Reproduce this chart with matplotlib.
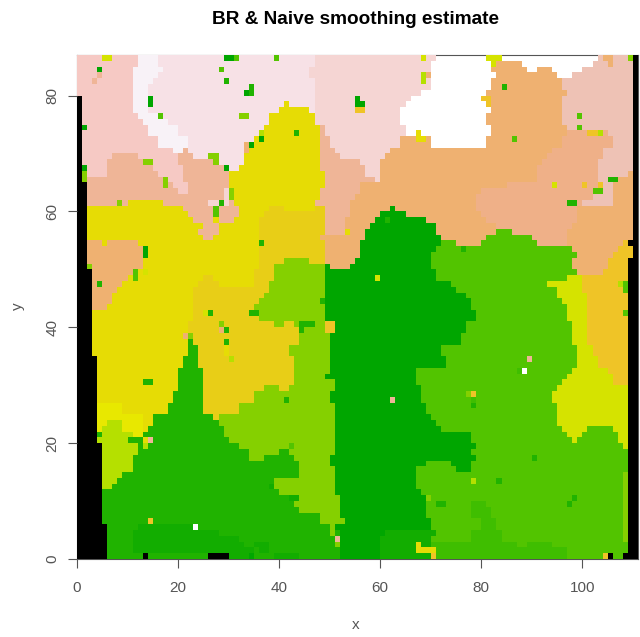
import numpy as np
import matplotlib
matplotlib.use('Agg')
import matplotlib.pyplot as plt
from matplotlib.colors import ListedColormap

plt.rcParams['font.family'] = ['Liberation Sans', 'DejaVu Sans']

# class colours of the map, W = no estimate (see through)
class_names = list('KabcdefghyzoOlAmnrpsqW')
class_colors = ['#000000', '#F6C9C4', '#F8F2F7', '#F7E1E6', '#F5D5D3', '#EFB597', '#EFB171',
                '#EFB088', '#EEC2B5', '#E6DC05', '#E8E800', '#E8CE17', '#EFC427', '#D5E300',
                '#B5E000', '#85D000', '#52C400', '#3FBE00', '#20B300', '#12AD00', '#00A600',
                '#FFFFFF00']

# one string per map row, top row first: class letter + column where the run ends
map_rows = [
    'a12 b16 c47 d71 W81 l84 W103 h104 f106 h109 m110 K111',
    'a12 b16 c47 d70 W82 l83 f88 W102 h105 f106 h110 K111',
    'a11 b17 c46 d70 W82 f89 W91 f94 W100 h110 K111',
    'a11 b16 c46 d70 W83 f95 W98 h110 K111',
    'a11 b15 c47 d70 W82 f96 h110 K111',
    'a11 b14 c47 d70 W82 f96 h110 K111',
    'a11 b14 c47 d68 W81 f97 h110 K111',
    'K1 a11 b14 c47 d66 W80 f96 h110 K111',
    'K1 a11 b14 c41 y42 c47 d65 W81 f96 h110 K111',
    'K1 a11 b14 c40 y46 c47 d64 W82 f96 h110 K111',
    'K1 a12 b16 c38 y47 d64 W81 f96 h110 K111',
    'K1 a13 b18 c38 y47 d64 W81 f96 h110 K111',
    'K1 a14 b20 c37 y48 e49 d65 W82 f97 h110 K111',
    'K1 a14 b20 c37 y48 e49 d65 W82 f97 g105 h110 K111',
    'K1 a16 b22 c35 y48 e50 d64 f70 W81 f96 g106 h110 K111',
    'K1 a16 b22 c35 y48 e50 d64 f70 W81 f96 g106 h110 K111',
    'K1 a19 b21 e22 c33 y48 e51 d62 f94 g104 h110 K111',
    'K1 a7 e12 a20 e23 c33 y48 e52 d61 f93 g104 h110 K111',
    'K1 a6 e13 a20 e28 c33 y48 e56 d60 f92 g103 h110 K111',
    'K1 a6 e15 a21 e30 c32 y48 e57 d60 f91 g103 h110 K111',
    'K1 a6 e16 a21 e30 y49 e57 d60 f91 g103 h109 f110 K111',
    'K1 a2 e17 a21 e30 y49 e59 d60 f91 g103 h107 f110 K111',
    'K2 e19 a22 e30 y49 e56 f85 g103 h106 f110 K111',
    'K2 e20 a22 e30 y48 e56 f80 g102 h106 f110 K111',
    'K2 e31 y48 e55 f79 g102 h106 f110 K111',
    'K2 e10 y17 e31 y47 e54 f79 g100 h106 f110 K111',
    'K2 y21 e32 y38 o41 y47 o49 e54 f62 q63 f79 g99 f110 K111',
    'K2 y22 e32 y37 o49 e54 f60 q65 f80 g99 f110 K111',
    'K2 y23 e31 y36 o49 e53 f59 q69 f81 g99 f110 K111',
    'K2 y25 e28 y36 o49 e53 f58 q71 f83 g98 f110 K111',
    'K2 y24 e28 y36 o49 e53 f57 q71 f83 n86 g97 f110 K111',
    'K2 y25 e27 y36 o48 f57 q72 f81 n90 g97 f110 K111',
    'K2 f12 y36 o49 f56 q72 n75 f80 n91 g97 f108 O109 K111',
    'K2 f13 y36 o49 f56 q71 n98 f107 O110 K111',
    'K2 f13 y36 o49 f56 q70 n99 f106 O110 K111',
    'K2 f13 y36 o41 m46 o49 f55 q70 n98 f105 O109 K111',
    'K2 f13 y36 o39 m49 q50 f54 q70 n98 f105 O109 K111',
    'K3 f11 y35 o39 m49 q71 n99 f104 O109 K111',
    'K3 f10 y25 o27 y35 o39 m49 q71 n97 l100 O109 K111',
    'K3 f9 y24 o28 y35 o38 m49 q74 n93 l100 O109 K111',
    'K3 f8 y23 o38 m49 q75 n95 l100 O109 K111',
    'K3 f7 y23 o37 m49 q77 n95 l101 O109 K111',
    'K3 f7 y23 o36 m49 q78 n96 l101 O109 K111',
    'K3 f6 y23 o35 m49 q78 n97 l101 O109 K111',
    'K3 y23 o36 m49 q79 n97 l101 O109 K111',
    'K3 y23 o36 m49 q79 n97 l101 O109 K111',
    'K3 y22 o39 m41 o43 m49 q77 n98 l101 O109 K111',
    'K3 y22 o45 m50 q77 n98 l101 O109 K111',
    'K3 y22 p23 o44 m50 q76 n98 l101 O109 K111',
    'K3 y22 p23 o44 m50 q76 n98 l101 O109 K111',
    'K3 y22 p24 o42 m50 q72 n99 l102 O109 K111',
    'K3 y22 p24 o42 m50 q72 n99 l102 O109 K111',
    'K4 y21 p24 o43 m50 q73 n99 l103 O109 K111',
    'K4 y21 p24 o43 m50 q73 n99 l103 O109 K111',
    'K4 y20 p25 o43 m50 q67 n98 l105 O109 K111',
    'K4 y20 p25 o43 m50 q67 n97 l106 O109 K111',
    'K4 y20 p25 o43 m51 q67 n96 l106 O109 K111',
    'K4 y20 p25 o37 m40 o42 m51 q68 n95 l109 K111',
    'K4 y19 p25 o35 m50 q68 n94 l109 K111',
    'K4 y19 p25 o35 m50 q68 n94 l109 K111',
    'K4 z9 y18 p25 o32 m51 q69 n95 l109 K111',
    'K4 z9 y18 p25 o32 m51 q69 n95 l109 K111',
    'K4 z13 y15 p27 o28 m51 q70 n95 l109 K111',
    'K4 z6 A9 z13 y15 p28 m51 q71 n95 l109 K111',
    'K4 z5 A9 z13 y14 p29 m51 q72 n96 l101 n106 l109 K111',
    'K4 z5 A11 z13 p29 m51 q78 n97 l100 n107 l109 K111',
    'K4 A10 p13 l14 p30 m51 q78 n98 l99 n107 l109 K111',
    'K5 A12 p32 m51 q79 n108 l109 K111',
    'K5 A12 p34 m40 p42 m51 q78 n109 K111',
    'K5 A11 p34 m37 p43 m50 q79 n109 K111',
    'K5 A11 p44 m50 q69 n74 q78 n109 K111',
    'K5 A11 p44 m51 q67 n75 q78 n109 K111',
    'K5 A9 p44 m51 q67 n108 m109 K111',
    'K5 A8 p39 m51 q67 n108 m109 K111',
    'K5 A7 p39 m51 q67 n108 m109 K111',
    'K5 p40 m51 q68 n108 m109 K111',
    'K5 p44 m52 q69 n108 m109 K111',
    'K5 p43 m52 q69 n78 r81 n108 m109 K111',
    'K5 p44 m52 q69 n78 r82 n108 m109 K111',
    'K5 p48 m52 q69 n78 r82 n108 m109 K111',
    'K5 p48 m53 q70 n80 r83 n108 m109 K111',
    'K6 p12 s23 p50 m51 q70 n80 r83 n108 m109 K111',
    'K6 p11 s28 p50 m51 p52 q61 s71 n78 r84 n108 m109 K111',
    'K6 p11 s32 p52 q60 s70 n78 r84 n108 m109 K111',
    'K6 p11 s33 p35 s38 p52 q60 s70 r87 n89 r94 n109 K111',
    'K6 p11 s35 p36 s38 p52 q60 s70 r97 n109 K111',
    'K6 p13 K14 p26 K30 s34 p39 s44 p52 q60 s70 r97 n105 K106 n108 K111',
]

# isolated single cells: column, row from the top, class
speck_col = [4, 3, 4, 5, 6, 29, 30, 31, 39, 28, 29, 34, 33, 34, 14, 14, 16, 32, 33, 1, 43, 36, 36,
             34, 33, 33, 26, 27, 27, 13, 14, 29, 1, 1, 1, 17, 17, 30, 30, 29, 29, 29, 26, 27, 28, 8,
             27, 27, 27, 53, 36, 5, 13, 13, 11, 11, 13, 2, 4, 48, 55, 55, 56, 55, 56,
             68, 68, 69, 68, 84, 80, 81, 81, 99, 99, 86, 101, 102, 103, 67, 67, 68, 105, 106, 94,
             100, 103, 102, 103, 97, 98, 61, 59, 76, 107, 108, 108,
             26, 25, 34, 35, 28, 28, 29, 29, 29, 29, 30, 44, 45, 46, 44, 49, 50, 49, 50, 21, 22,
             49, 41, 13, 14, 4, 13, 14, 13, 13, 42, 38, 42, 43, 14, 23, 51, 51, 34,
             108, 89, 88, 87, 78, 77, 78, 78, 62, 90, 78, 83, 69, 71, 72, 98, 97,
             67, 67, 68, 69, 70, 70, 104]
speck_row = [2, 4, 3, 0, 0, 0, 0, 0, 0, 2, 4, 5, 6, 6, 7, 8, 10, 10, 10, 12, 13, 13, 14,
             15, 15, 16, 17, 17, 18, 18, 18, 19, 19, 20, 21, 21, 22, 23, 24, 23, 24, 25, 25, 25, 25, 25,
             26, 27, 28, 30, 32, 32, 33, 34, 37, 38, 37, 36, 39, 42, 7, 8, 8, 9, 9,
             0, 3, 3, 4, 5, 7, 7, 8, 10, 12, 14, 13, 13, 13, 13, 14, 14, 21, 21, 22,
             22, 22, 23, 23, 25, 25, 28, 38, 33, 39, 39, 40,
             44, 44, 44, 44, 46, 47, 47, 49, 50, 51, 52, 46, 46, 46, 47, 46, 46, 47, 47, 48, 48,
             55, 59, 56, 56, 65, 65, 66, 66, 67, 67, 74, 76, 76, 80, 81, 83, 84, 86,
             44, 52, 54, 54, 58, 58, 59, 60, 59, 69, 73, 73, 76, 77, 77, 76, 77,
             84, 85, 85, 85, 85, 86, 86]
speck_class = ['q', 'e', 'e', 'l', 'l', 'q', 'q', 'n', 'n', 'n', 'p', 'p', 'q', 'p', 'q', 'q', 'n', 'm', 'm', 'q', 'p', 'A', 'q',
               'q', 'f', 'f', 'm', 'm', 'm', 'm', 'm', 'q', 'q', 'm', 'm', 'm', 'm', 'm', 'm', 'd', 'd', 'd', 'd', 'd', 'p', 'm',
               'n', 'n', 'y', 'y', 'p', 'y', 'q', 'q', 'n', 'n', 'l', 'm', 'p', 'p', 'q', 'q', 'q', 'O', 'O',
               'l', 'A', 'f', 'A', 'p', 'O', 'O', 'O', 'n', 'n', 'n', 'O', 'O', 'A', 'y', 'y', 'y', 'p', 'p', 'l',
               'O', 'O', 'n', 'n', 'p', 'p', 'p', 'l', 'p', 'A', 'n', 'n',
               'p', 'l', 'p', 'p', 'm', 'f', 'p', 'p', 'y', 'y', 'A', 'p', 'p', 'p', 'p', 'O', 'O', 'O', 'O', 'f', 'm',
               'q', 'p', 'p', 'p', 'p', 'p', 'e', 'y', 'A', 'n', 's', 's', 's', 'O', 'W', 'e', 'm', 'q',
               'n', 'e', 'W', 'r', 'O', 'm', 'r', 'p', 'e', 'p', 'A', 'p', 'm', 'p', 'p', 'p', 'p',
               'y', 'y', 'y', 'y', 'y', 'O', 'O']

x_ticks = [0, 20, 40, 60, 80, 100]
y_ticks = [0, 20, 40, 60, 80]
n_cols = 111
gray = '#555555'

grid = np.zeros((len(map_rows), n_cols), dtype=int)
for i, row in enumerate(map_rows):
    start = 0
    for run in row.split():
        grid[i, start:int(run[1:])] = class_names.index(run[0])
        start = int(run[1:])
for c, r, name in zip(speck_col, speck_row, speck_class):
    grid[r, c] = class_names.index(name)

fig = plt.figure(figsize=(6.40, 6.37), dpi=100)
ax = fig.add_axes([77 / 640, 1 - 559 / 637, 561 / 640, 504 / 637])
ax.imshow(grid, cmap=ListedColormap(class_colors), vmin=0, vmax=len(class_names) - 1,
          extent=[0, n_cols, 0, len(map_rows)], aspect='auto', interpolation='nearest', zorder=1)
for s in ax.spines.values():
    s.set_zorder(0.5)
    s.set_linewidth(0.8)
    s.set_color(gray)
ax.set_xticks(x_ticks)
ax.set_yticks(y_ticks)
ax.set_yticklabels(y_ticks, rotation=90, va='center')
ax.tick_params(length=6.5, width=0.8, labelsize=11, color=gray, labelcolor=gray)
ax.tick_params(axis='x', pad=9.5)
ax.tick_params(axis='y', pad=6)

fig.text(356 / 640, 1 - 20 / 637, 'BR & Naive smoothing estimate', ha='center', va='center',
         fontsize=13.7, fontweight='bold')
fig.text(356 / 640, 1 - 625 / 637, 'x', ha='center', va='center', fontsize=11, color=gray)
fig.text(18 / 640, 1 - 306 / 637, 'y', ha='center', va='center', rotation=90, fontsize=11, color=gray)

fig.savefig('out.png', dpi=100)
